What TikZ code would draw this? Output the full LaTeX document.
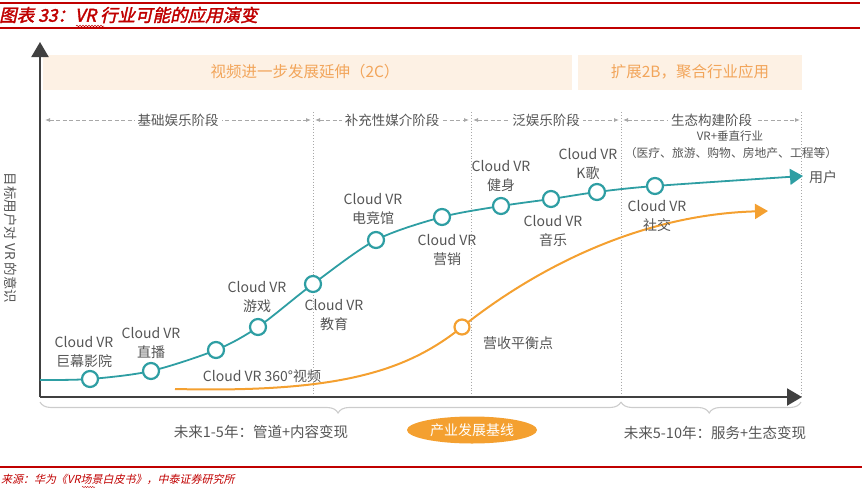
\documentclass[tikz,border=0pt]{standalone}
\usepackage{fontspec}
\usetikzlibrary{arrows.meta,shapes.geometric,decorations.pathreplacing,decorations.pathmorphing}
\newfontfamily\cjk{Noto Sans CJK SC}
\newfontfamily\titlefont[FakeSlant=0.22,FakeBold=2]{Noto Sans CJK SC}
\newfontfamily\srcfont[FakeSlant=0.22]{Noto Sans CJK SC}
\definecolor{tealc}{HTML}{2E9EA3}
\definecolor{orangec}{HTML}{F4A030}
\definecolor{bandc}{HTML}{FDF1E4}
\definecolor{bandtxt}{HTML}{F2A55A}
\definecolor{txtgray}{HTML}{555555}
\definecolor{axisc}{HTML}{404040}
\definecolor{redc}{HTML}{C00000}
\definecolor{divc}{HTML}{A8A8A8}
\tikzset{
  lbl/.style={font=\cjk\fontsize{14}{18.5}\selectfont, text=txtgray, align=center, inner sep=0pt},
  dot/.style={circle, draw=tealc, line width=2.2pt, fill=white, minimum size=16pt, inner sep=0pt},
  odot/.style={circle, draw=orangec, line width=2.2pt, fill=white, minimum size=15pt, inner sep=0pt},
  stagearrow/.style={draw=divc, dash pattern=on 4pt off 2.5pt, line width=0.8pt, {Latex[length=5pt,width=4pt]}-{Latex[length=5pt,width=4pt]}},
  stagelbl/.style={font=\cjk\fontsize{13.5}{15}\selectfont, text=txtgray, fill=white, inner xsep=3pt, inner ysep=1pt},
  divider/.style={draw=divc, dotted, line width=0.9pt},
  bandtext/.style={font=\cjk\fontsize{15.5}{17}\selectfont, text=bandtxt},
  redline/.style={draw=redc, line width=1.3pt},
  bracec/.style={draw=gray!40, line width=1.1pt, decorate},
}
\begin{document}
\begin{tikzpicture}[x=1pt,y=-1pt]
\useasboundingbox (0,0) rectangle (865,490);
% title and red rules
\draw[redline] (0,3) -- (860,3);
\draw[redline] (0,28) -- (860,28);
\draw[redline] (0,467) -- (862,467);
\node[anchor=west, inner sep=0pt, text=redc, font=\titlefont\fontsize{17.5}{19}\selectfont] (title) at (-1,15) {图表 33：VR 行业可能的应用演变};
\draw[draw=redc, line width=0.5pt, decorate, decoration={snake, amplitude=0.8pt, segment length=3pt}] (76,26) -- (104,26);
\node[anchor=west, inner sep=0pt, text=redc, font=\srcfont\fontsize{11}{13}\selectfont] (src) at (1,479) {来源：华为《VR场景白皮书》，中泰证券研究所};
\draw[draw=redc, line width=0.4pt, decorate, decoration={snake, amplitude=0.6pt, segment length=2.5pt}] (82,487) -- (95,487);

% bands
\fill[bandc] (43,55) rectangle (572,90);
\fill[bandc] (578,55) rectangle (802,90);
\node[bandtext] (b1) at (305,72) {视频进一步发展延伸（2C）};
\node[bandtext] (b2) at (690,72) {扩展2B，聚合行业应用};

% dividers
\coordinate (d1t) at (313,112); \coordinate (d1b) at (313,397);
\coordinate (d2t) at (471,112); \coordinate (d2b) at (471,397);
\coordinate (d3t) at (621,112); \coordinate (d3b) at (621,397);
\coordinate (d4t) at (801,112); \coordinate (d4b) at (801,397);
\draw[divider] (d1t) -- (d1b);
\draw[divider] (d2t) -- (d2b);
\draw[divider] (d3t) -- (d3b);
\draw[divider] (d4t) -- (d4b);

% stage arrows
\coordinate (s1a) at (45,120); \coordinate (s1b) at (311,120);
\coordinate (s2a) at (315,120); \coordinate (s2b) at (469,120);
\coordinate (s3a) at (473,120); \coordinate (s3b) at (619,120);
\coordinate (s4a) at (623,120); \coordinate (s4b) at (800,120);
\draw[stagearrow] (s1a) -- node[stagelbl] (st1) {基础娱乐阶段} (s1b);
\draw[stagearrow] (s2a) -- node[stagelbl] (st2) {补充性媒介阶段} (s2b);
\draw[stagearrow] (s3a) -- node[stagelbl] (st3) {泛娱乐阶段} (s3b);
\draw[stagearrow] (s4a) -- node[stagelbl] (st4) {生态构建阶段} (s4b);
\node[lbl, font=\cjk\fontsize{11.5}{13}\selectfont] (vr1) at (730,136) {VR+垂直行业};
\node[lbl, font=\cjk\fontsize{11.8}{13}\selectfont] (vr2) at (731,153) {（医疗、旅游、购物、房地产、工程等）};

% axes
\coordinate (orig) at (40,397);
\coordinate (ytop) at (40,42);
\coordinate (xend) at (802,397);
\draw[axisc, line width=2.2pt, -{Triangle[width=17pt,length=15pt]}] (orig) -- (ytop);
\draw[axisc, line width=2.2pt, -{Triangle[width=17pt,length=15pt]}] (orig) -- (xend);
\node[lbl, rotate=-90, font=\cjk\fontsize{13.5}{15}\selectfont] (ylab) at (11,238) {目标用户对 VR 的意识};

% orange curve
\coordinate (o0) at (175,389);
\coordinate (obal) at (462,327);
\coordinate (o9) at (768,211);
\draw[orangec, line width=2pt, -{Triangle[width=15pt,length=13pt]}] (o0) .. controls (340,393) and (407,371) .. (obal) .. controls (522,279) and (628,215) .. (o9);
\node[odot] (bal) at (obal) {};
\node[lbl] (balt) at (518,343) {营收平衡点};

% teal curve
\coordinate (t0) at (40,380);
\coordinate (c1) at (90,379);
\coordinate (c2) at (151,371);
\coordinate (c3) at (216,350);
\coordinate (c4) at (258,327);
\coordinate (c5) at (313,284);
\coordinate (c6) at (376,240);
\coordinate (c7) at (442,217);
\coordinate (c8) at (501,206);
\coordinate (c9) at (551,199);
\coordinate (c10) at (597,192);
\coordinate (c11) at (655,186);
\coordinate (tend) at (803,176);
\draw[tealc, line width=1.8pt, -{Triangle[width=16pt,length=13pt]}] plot[smooth, tension=0.5] coordinates {(t0) (c1) (c2) (c3) (c4) (c5) (c6) (c7) (c8) (c9) (c10) (c11) (tend)};
\foreach \i in {1,...,11} { \node[dot] (n\i) at (c\i) {}; }
\node[lbl, anchor=west] (user) at (809,177) {用户};

% labels
\node[lbl] (l1) at (84,352) {Cloud VR\\巨幕影院};
\node[lbl] (l2) at (151,343) {Cloud VR\\直播};
\node[lbl] (l3) at (262,376) {Cloud VR 360°视频};
\node[lbl] (l4) at (257,297) {Cloud VR\\游戏};
\node[lbl] (l5) at (334,315) {Cloud VR\\教育};
\node[lbl] (l6) at (373,209) {Cloud VR\\电竞馆};
\node[lbl] (l7) at (447,250) {Cloud VR\\营销};
\node[lbl] (l8) at (501,176) {Cloud VR\\健身};
\node[lbl] (l9) at (553,231) {Cloud VR\\音乐};
\node[lbl] (l10) at (588,164) {Cloud VR\\K歌};
\node[lbl] (l11) at (657,216) {Cloud VR\\社交};

% braces
\draw[bracec, decoration={brace, mirror, amplitude=11pt, aspect=0.513}] (40,402) -- (621,402);
\draw[bracec, decoration={brace, mirror, amplitude=11pt, aspect=0.49}] (621,402) -- (801,402);
\node[lbl, font=\cjk\fontsize{14.5}{16}\selectfont] (f1) at (261,432) {未来1-5年：管道+内容变现};
\node[lbl, font=\cjk\fontsize{14.5}{16}\selectfont] (f2) at (715,433) {未来5-10年：服务+生态变现};
\node[ellipse, fill=orangec, minimum width=130pt, minimum height=27pt, inner sep=0pt, text=white, font=\cjk\fontsize{14}{16}\selectfont] (base) at (472,430) {产业发展基线};
\end{tikzpicture}
\end{document}
